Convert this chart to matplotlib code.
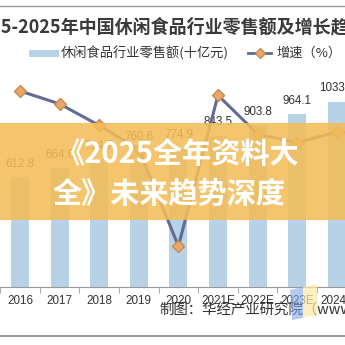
"""
Retail sales of China's snack food industry with growth rate (bar + line),
partly covered by an orange banner, as in the source screenshot.
"""

import matplotlib
matplotlib.use("Agg")
import matplotlib.pyplot as plt
from matplotlib.lines import Line2D
from matplotlib.patches import Rectangle, Polygon
import numpy as np

plt.rcParams["font.family"] = ["Noto Sans CJK SC", "DejaVu Sans"]

years = ["2016", "2017", "2018", "2019", "2020", "2021E", "2022E", "2023E", "2024E", "2025E"]
sales = [612.8, 664.6, 714.7, 760.6, 774.9, 843.5, 903.8, 964.1, 1033.2, 1106.0]
growth = [9.1, 8.5, 7.5, 6.4, 1.9, 8.9, 7.1, 6.7, 7.2, 7.1]

title = "2015-2025年中国休闲食品行业零售额及增长趋势"
sales_label = "休闲食品行业零售额(十亿元)"
growth_label = "增速（%）"
source = "制图：华经产业研究院（www.huaon.com）"
banner_lines = ["《2025全年资料大", "全》未来趋势深度"]

BAR_COLOR = "#B7D1E6"
LINE_COLOR = "#626B94"
MARKER_FACE = "#E9A66A"
MARKER_EDGE = "#C98A50"
TEXT_COLOR = "#333333"

W = H = 345.0


def fx(px):
    return px / W


def fy(px):
    return 1 - px / H


fig = plt.figure(figsize=(3.45, 3.45), dpi=100)
fig.patch.set_facecolor("white")

# plot area runs past the right edge (the screenshot is cropped)
ax = fig.add_axes([fx(0.2), fy(287), 396 / W, (287 - 71.6) / H])
x = np.arange(len(years))
ax.bar(x, sales, width=0.45, color=BAR_COLOR, zorder=2)
ax.set_xlim(-0.5, len(years) - 0.5)
ax.set_ylim(0, 1200)
for xi, v in zip(x, sales):
    ax.annotate(f"{v:.1f}", (xi, v), xytext=(0, 9.5), textcoords="offset points",
                ha="center", va="center", fontsize=8.4, color=TEXT_COLOR,
                family=["Liberation Sans", "DejaVu Sans"], zorder=3)

for side in ["left", "right", "top"]:
    ax.spines[side].set_visible(False)
ax.spines["bottom"].set_color("#999999")
ax.set_yticks([])
ax.set_xticks(x)
ax.set_xticklabels(years, fontsize=8.4, color=TEXT_COLOR,
                   family=["Liberation Sans", "DejaVu Sans"])
ax.set_xticks(np.arange(-0.5, len(years), 1), minor=True)
ax.tick_params(axis="x", which="major", length=0, pad=6)
ax.tick_params(axis="x", which="minor", length=4, color="#999999")

ax2 = ax.twinx()
ax2.plot(x, growth, color=LINE_COLOR, lw=2.2, marker="D", markersize=6,
         markerfacecolor=MARKER_FACE, markeredgecolor=MARKER_EDGE, zorder=4)
ax2.set_ylim(0, 10)
ax2.axis("off")

# title (left part cut off by the crop)
fig.text(fx(-31), fy(27), title, ha="left", va="center", fontsize=13,
         fontweight="bold", color="#3A3A3A")

handles = [
    Line2D([], [], color=BAR_COLOR, lw=5),
    Line2D([], [], color=LINE_COLOR, lw=2, marker="D", markersize=5,
           markerfacecolor=MARKER_FACE, markeredgecolor=MARKER_EDGE),
]
fig.legend(handles, [sales_label, growth_label], loc="center",
           bbox_to_anchor=(fx(187), fy(53)), ncol=2, frameon=False,
           fontsize=9.5, handlelength=1.75, handletextpad=0.4,
           columnspacing=1.5, labelcolor=TEXT_COLOR)

fig.text(fx(159), fy(311), source, ha="left", va="center", fontsize=10.4,
         color=TEXT_COLOR)

# frame lines of the screenshot
fig.add_artist(Line2D([0, 1], [fy(6), fy(6)], transform=fig.transFigure,
                      color="#9A9A9A", lw=1))
fig.add_artist(Line2D([0, 1], [fy(336), fy(336)], transform=fig.transFigure,
                      color="#888888", lw=1.2))

# faint logo watermark bottom right
fig.add_artist(Polygon([(fx(290), fy(290)), (fx(303), fy(287)), (fx(303), fy(318)),
                        (fx(292), fy(320))], closed=True, transform=fig.transFigure,
                       facecolor="#7FA7EA", edgecolor="none", alpha=0.6, zorder=5))
fig.add_artist(Polygon([(fx(303), fy(287)), (fx(317), fy(284)), (fx(318), fy(314)),
                        (fx(303), fy(318))], closed=True, transform=fig.transFigure,
                       facecolor="#FBE9A6", edgecolor="none", alpha=0.7, zorder=5))

# orange banner on top of the chart
fig.add_artist(Rectangle((0, fy(220)), 1, 97 / H, transform=fig.transFigure,
                         facecolor="#F4BD58", edgecolor="none", alpha=0.87, zorder=10))
fig.text(fx(56), fy(154), banner_lines[0], ha="left", va="center", fontsize=21,
         fontweight="bold", color="white", zorder=11)
fig.text(fx(53), fy(194), banner_lines[1], ha="left", va="center", fontsize=21,
         fontweight="bold", color="white", zorder=11)

fig.savefig("out.png", dpi=100)
